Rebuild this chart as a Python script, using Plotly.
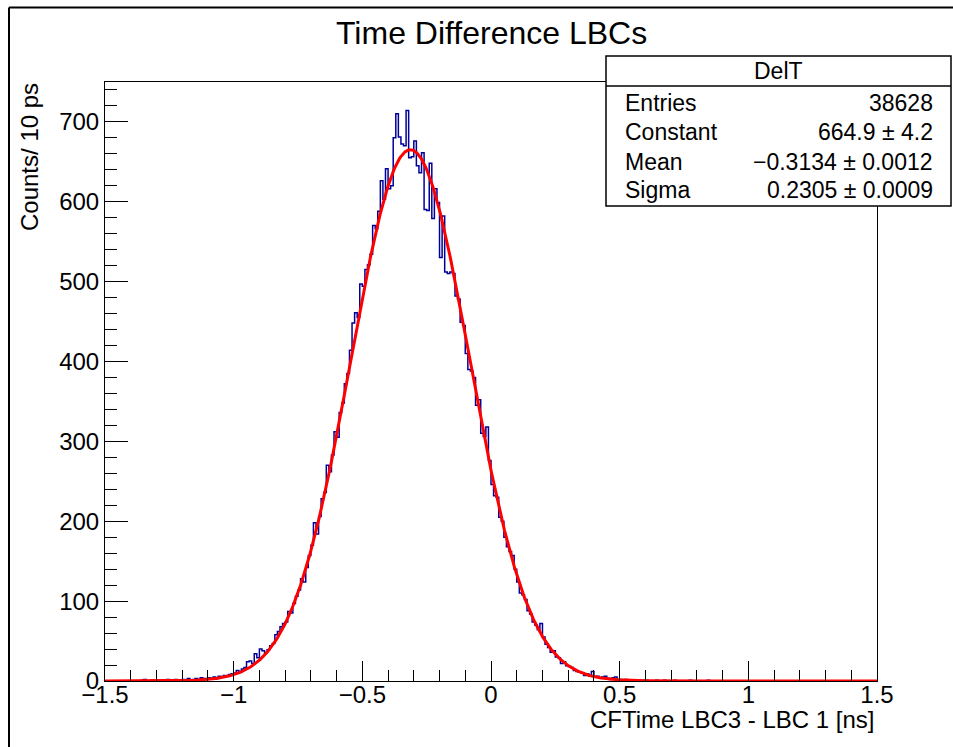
import numpy as np
import plotly.graph_objects as go

# ---------------- data ----------------
x_min, x_max, bin_width = -1.5, 1.5, 0.01

counts = [
    0, 0, 0, 0, 0, 0, 0, 0, 0, 0,
    0, 0, 0, 0, 1, 2, 0, 0, 1, 0,
    1, 0, 0, 1, 2, 1, 0, 2, 1, 1,
    2, 1, 3, 1, 2, 3, 2, 4, 3, 3,
    4, 3, 5, 3, 6, 5, 7, 6, 8, 9,
    10, 13, 12, 15, 17, 24, 25, 22, 34, 29,
    40, 38, 35, 39, 44, 47, 58, 62, 68, 72,
    74, 87, 85, 97, 106, 114, 128, 124, 142, 157,
    170, 198, 184, 206, 228, 236, 270, 262, 283, 312,
    305, 336, 348, 372, 385, 414, 448, 461, 455, 497,
    494, 515, 521, 534, 570, 566, 588, 626, 603, 641,
    616, 620, 680, 710, 681, 672, 670, 714, 655, 656,
    676, 645, 636, 661, 590, 589, 648, 579, 616, 599,
    530, 582, 512, 510, 512, 510, 482, 478, 449, 445,
    410, 390, 388, 380, 345, 352, 310, 306, 318, 276,
    246, 232, 230, 205, 200, 180, 168, 162, 157, 140,
    124, 110, 108, 102, 88, 84, 74, 70, 64, 72,
    55, 46, 42, 36, 38, 30, 29, 22, 24, 19,
    18, 17, 13, 12, 11, 10, 7, 9, 6, 12,
    5, 6, 4, 5, 6, 3, 2, 4, 5, 2,
    2, 1, 2, 1, 1, 0, 1, 1, 0, 1,
    1, 0, 0, 0, 1, 0, 0, 1, 0, 0,
    0, 1, 0, 0, 0, 0, 0, 1, 0, 0,
    0, 0, 0, 0, 1, 0, 0, 0, 0, 0,
    0, 0, 0, 0, 0, 0, 0, 0, 0, 0,
    0, 0, 0, 0, 0, 0, 0, 0, 0, 0,
    0, 0, 0, 0, 0, 0, 0, 0, 0, 0,
    0, 0, 0, 0, 0, 0, 0, 0, 0, 0,
    0, 0, 0, 0, 0, 0, 0, 0, 0, 0,
    0, 0, 0, 0, 0, 0, 0, 0, 0, 0,
]

fit_constant = 664.9
fit_mean = -0.3134
fit_sigma = 0.2305

x_tick_vals = [-1.5, -1.0, -0.5, 0.0, 0.5, 1.0, 1.5]
x_tick_text = ["\u22121.5", "\u22121", "\u22120.5", "0", "0.5", "1", "1.5"]
y_tick_vals = [0, 100, 200, 300, 400, 500, 600, 700]
y_tick_text = ["0", "100", "200", "300", "400", "500", "600", "700"]

stats_title = "DelT"
stats_labels = ["Entries", "Constant", "Mean", "Sigma"]
stats_values = ["38628", "664.9 \u00b1 4.2", "\u22120.3134 \u00b1 0.0012", "0.2305 \u00b1 0.0009"]

title_text = "Time Difference LBCs"
x_title = "CFTime LBC3 - LBC 1 [ns]"
y_title = "Counts/ 10 ps"

# ---------------- geometry helpers ----------------
W, H = 953, 747
L, R, T, B = 105, 877, 82, 681
FONT = "Liberation Sans, Arial, Helvetica, sans-serif"


def px(x):
    return (x - L) / (R - L)


def py(y):
    return (B - y) / (B - T)


nbins = len(counts)
edges = np.round(np.linspace(x_min, x_min + nbins * bin_width, nbins + 1), 4)
step_y = list(counts) + [counts[-1]]

xf = np.linspace(x_min, x_max, 1201)
yf = fit_constant * np.exp(-0.5 * ((xf - fit_mean) / fit_sigma) ** 2)

fig = go.Figure()
fig.add_trace(go.Scatter(x=edges, y=step_y, mode="lines",
                         line=dict(color="#000099", width=1.5, shape="hv"),
                         hoverinfo="skip"))
fig.add_trace(go.Scatter(x=xf, y=yf, mode="lines",
                         line=dict(color="#ff0000", width=3),
                         hoverinfo="skip"))

ymax = 1.05 * max(counts)

fig.update_layout(
    width=W, height=H,
    margin=dict(l=L, r=W - R, t=T, b=H - B, pad=0),
    paper_bgcolor="white", plot_bgcolor="white",
    showlegend=False,
    font=dict(family=FONT, color="black", size=24),
    xaxis=dict(range=[x_min, x_max], showgrid=False, zeroline=False,
               showline=True, linecolor="black", linewidth=1, mirror=True,
               ticks="inside", ticklen=20, tickwidth=1, tickcolor="black",
               tickmode="array", tickvals=x_tick_vals, ticktext=x_tick_text,
               tickfont=dict(size=24, family=FONT), ticklabelstandoff=-8,
               minor=dict(tickmode="linear", tick0=x_min, dtick=0.1, ticks="inside",
                          ticklen=11, tickwidth=1, tickcolor="black", showgrid=False)),
    yaxis=dict(range=[0, ymax], showgrid=False, zeroline=False,
               showline=True, linecolor="black", linewidth=1, mirror=True,
               ticks="inside", ticklen=23, tickwidth=1, tickcolor="black",
               tickmode="array", tickvals=y_tick_vals, ticktext=y_tick_text,
               tickfont=dict(size=24, family=FONT),
               minor=dict(tickmode="linear", tick0=0, dtick=20, ticks="inside",
                          ticklen=12, tickwidth=1, tickcolor="black", showgrid=False)),
)

shapes = []
# canvas border
shapes.append(dict(type="line", xref="paper", yref="paper",
                   x0=px(9), x1=px(960), y0=py(7.5), y1=py(7.5),
                   line=dict(color="black", width=2), layer="above"))
shapes.append(dict(type="line", xref="paper", yref="paper",
                   x0=px(9), x1=px(9), y0=py(7.5), y1=py(760),
                   line=dict(color="black", width=2), layer="above"))
# stats box
sb_l, sb_r, sb_t, sb_b, sb_h = 606, 951, 56, 206, 86
shapes.append(dict(type="rect", xref="paper", yref="paper",
                   x0=px(sb_l), x1=px(sb_r), y0=py(sb_b), y1=py(sb_t),
                   fillcolor="white", line=dict(color="black", width=1.5), layer="above"))
shapes.append(dict(type="line", xref="paper", yref="paper",
                   x0=px(sb_l), x1=px(sb_r), y0=py(sb_h), y1=py(sb_h),
                   line=dict(color="black", width=1.5), layer="above"))
fig.update_layout(shapes=shapes)

ann = []
ann.append(dict(text=title_text, x=px(491), y=py(33), xref="paper", yref="paper",
                xanchor="center", yanchor="middle", showarrow=False,
                font=dict(size=32, family=FONT)))
ann.append(dict(text=x_title, x=px(877), y=py(719), xref="paper", yref="paper",
                xanchor="right", yanchor="middle", showarrow=False,
                font=dict(size=24, family=FONT)))
ann.append(dict(text=y_title, x=px(29), y=py(81), xref="paper", yref="paper",
                xanchor="center", yanchor="top", showarrow=False, textangle=-90,
                font=dict(size=24, family=FONT)))
ann.append(dict(text=stats_title, x=px((sb_l + sb_r) / 2), y=py(71), xref="paper", yref="paper",
                xanchor="center", yanchor="middle", showarrow=False,
                font=dict(size=23, family=FONT)))
row_y = [103, 132, 162, 190]
for lab, val, yy in zip(stats_labels, stats_values, row_y):
    ann.append(dict(text=lab, x=px(623), y=py(yy), xref="paper", yref="paper",
                    xanchor="left", yanchor="middle", showarrow=False,
                    font=dict(size=23, family=FONT)))
    ann.append(dict(text=val, x=px(935), y=py(yy), xref="paper", yref="paper",
                    xanchor="right", yanchor="middle", showarrow=False,
                    font=dict(size=23, family=FONT)))
fig.update_layout(annotations=ann)

fig.write_html("out.html")
